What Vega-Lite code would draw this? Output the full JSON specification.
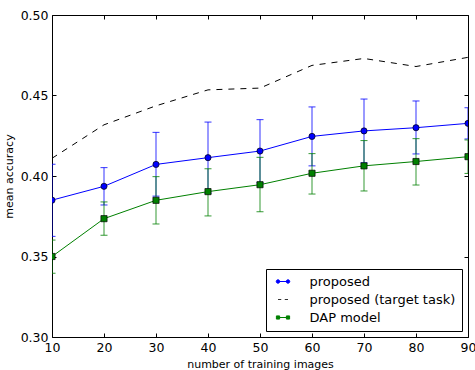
{
  "$schema": "https://vega.github.io/schema/vega-lite/v6.json",
  "width": 416,
  "height": 322,
  "autosize": "none",
  "padding": {"left": 52, "top": 15, "right": 7, "bottom": 33},
  "background": "white",
  "config": {
    "font": "DejaVu Sans",
    "view": {"stroke": "black", "strokeWidth": 1},
    "axis": {
      "domain": false, "grid": false, "ticks": true, "tickColor": "black", "tickSize": -4,
      "labelPadding": 8, "labelFont": "DejaVu Sans", "labelFontSize": 12.5, "labelColor": "black",
      "labelFlush": false, "labelOverlap": false,
      "titleFont": "DejaVu Sans", "titleFontSize": 11, "titleFontWeight": "normal", "titleColor": "black"
    },
    "legend": {
      "orient": "bottom-right", "offset": 6, "padding": 6, "strokeColor": "black", "fillColor": "white",
      "cornerRadius": 0, "labelFont": "DejaVu Sans", "labelFontSize": 13, "labelColor": "black",
      "labelOffset": 20, "symbolOffset": 4.5, "rowPadding": 4, "symbolStrokeWidth": 1, "symbolOpacity": 1
    }
  },
  "data": {
    "values": [
      {"series": "proposed", "n": 10, "acc": 0.385, "lo": 0.3625, "hi": 0.4073},
      {"series": "proposed", "n": 20, "acc": 0.3936, "lo": 0.382, "hi": 0.4052},
      {"series": "proposed", "n": 30, "acc": 0.4072, "lo": 0.3875, "hi": 0.4271},
      {"series": "proposed", "n": 40, "acc": 0.4114, "lo": 0.3893, "hi": 0.4335},
      {"series": "proposed", "n": 50, "acc": 0.4155, "lo": 0.3958, "hi": 0.435},
      {"series": "proposed", "n": 60, "acc": 0.4246, "lo": 0.4063, "hi": 0.4429},
      {"series": "proposed", "n": 70, "acc": 0.428, "lo": 0.4082, "hi": 0.4478},
      {"series": "proposed", "n": 80, "acc": 0.43, "lo": 0.4137, "hi": 0.4466},
      {"series": "proposed", "n": 90, "acc": 0.4327, "lo": 0.423, "hi": 0.4424},
      {"series": "proposed (target task)", "n": 10, "acc": 0.411},
      {"series": "proposed (target task)", "n": 20, "acc": 0.4318},
      {"series": "proposed (target task)", "n": 30, "acc": 0.4436},
      {"series": "proposed (target task)", "n": 40, "acc": 0.4535},
      {"series": "proposed (target task)", "n": 50, "acc": 0.4546},
      {"series": "proposed (target task)", "n": 60, "acc": 0.4687},
      {"series": "proposed (target task)", "n": 70, "acc": 0.473},
      {"series": "proposed (target task)", "n": 80, "acc": 0.468},
      {"series": "proposed (target task)", "n": 90, "acc": 0.4737},
      {"series": "DAP model", "n": 10, "acc": 0.35, "lo": 0.3396, "hi": 0.3602},
      {"series": "DAP model", "n": 20, "acc": 0.3735, "lo": 0.3632, "hi": 0.3839},
      {"series": "DAP model", "n": 30, "acc": 0.3849, "lo": 0.3702, "hi": 0.3996},
      {"series": "DAP model", "n": 40, "acc": 0.3903, "lo": 0.3752, "hi": 0.4045},
      {"series": "DAP model", "n": 50, "acc": 0.3946, "lo": 0.3778, "hi": 0.4116},
      {"series": "DAP model", "n": 60, "acc": 0.4017, "lo": 0.3888, "hi": 0.4139},
      {"series": "DAP model", "n": 70, "acc": 0.4063, "lo": 0.3907, "hi": 0.422},
      {"series": "DAP model", "n": 80, "acc": 0.409, "lo": 0.3944, "hi": 0.4232},
      {"series": "DAP model", "n": 90, "acc": 0.412, "lo": 0.4016, "hi": 0.4224}
    ]
  },
  "layer": [
    {
      "transform": [{"filter": "datum.series === 'proposed (target task)'"}],
      "mark": {"type": "line", "color": "black", "strokeWidth": 1, "strokeDash": [6, 6], "clip": true},
      "encoding": {
        "x": {"field": "n", "type": "quantitative", "scale": {"domain": [10, 90], "nice": false, "zero": false},
              "axis": {"orient": "bottom", "values": [10, 20, 30, 40, 50, 60, 70, 80, 90], "format": "d", "title": "number of training images", "titlePadding": 5}},
        "y": {"field": "acc", "type": "quantitative", "scale": {"domain": [0.3, 0.5], "nice": false, "zero": false},
              "axis": {"orient": "left", "values": [0.3, 0.35, 0.4, 0.45, 0.5], "format": ".2f", "title": "mean accuracy", "titlePadding": 6}}
      }
    },
    {
      "transform": [{"filter": "datum.series === 'proposed'"}],
      "mark": {"type": "rule", "color": "#0000ff", "strokeWidth": 1, "opacity": 0.8, "clip": true},
      "encoding": {
        "x": {"field": "n", "type": "quantitative", "axis": {"orient": "top", "values": [10, 20, 30, 40, 50, 60, 70, 80, 90], "labels": false, "title": null}},
        "y": {"field": "lo", "type": "quantitative", "axis": {"orient": "right", "values": [0.3, 0.35, 0.4, 0.45, 0.5], "labels": false, "title": null}},
        "y2": {"field": "hi"}
      }
    },
    {
      "transform": [{"filter": "datum.series === 'proposed'"}],
      "mark": {"type": "tick", "orient": "horizontal", "color": "#0000ff", "size": 7, "thickness": 1, "opacity": 0.8, "clip": true},
      "encoding": {
        "x": {"field": "n", "type": "quantitative", "axis": null},
        "y": {"field": "hi", "type": "quantitative", "axis": null}
      }
    },
    {
      "transform": [{"filter": "datum.series === 'proposed'"}],
      "mark": {"type": "tick", "orient": "horizontal", "color": "#0000ff", "size": 7, "thickness": 1, "opacity": 0.8, "clip": true},
      "encoding": {
        "x": {"field": "n", "type": "quantitative", "axis": null},
        "y": {"field": "lo", "type": "quantitative", "axis": null}
      }
    },
    {
      "transform": [{"filter": "datum.series === 'DAP model'"}],
      "mark": {"type": "rule", "color": "#008000", "strokeWidth": 1, "opacity": 0.8, "clip": true},
      "encoding": {
        "x": {"field": "n", "type": "quantitative", "axis": null},
        "y": {"field": "lo", "type": "quantitative", "axis": null},
        "y2": {"field": "hi"}
      }
    },
    {
      "transform": [{"filter": "datum.series === 'DAP model'"}],
      "mark": {"type": "tick", "orient": "horizontal", "color": "#008000", "size": 7, "thickness": 1, "opacity": 0.8, "clip": true},
      "encoding": {
        "x": {"field": "n", "type": "quantitative", "axis": null},
        "y": {"field": "hi", "type": "quantitative", "axis": null}
      }
    },
    {
      "transform": [{"filter": "datum.series === 'DAP model'"}],
      "mark": {"type": "tick", "orient": "horizontal", "color": "#008000", "size": 7, "thickness": 1, "opacity": 0.8, "clip": true},
      "encoding": {
        "x": {"field": "n", "type": "quantitative", "axis": null},
        "y": {"field": "lo", "type": "quantitative", "axis": null}
      }
    },
    {
      "transform": [{"filter": "datum.series === 'proposed'"}],
      "mark": {"type": "line", "color": "#0000ff", "strokeWidth": 1, "clip": true},
      "encoding": {
        "x": {"field": "n", "type": "quantitative", "axis": null},
        "y": {"field": "acc", "type": "quantitative", "axis": null}
      }
    },
    {
      "transform": [{"filter": "datum.series === 'DAP model'"}],
      "mark": {"type": "line", "color": "#008000", "strokeWidth": 1, "clip": true},
      "encoding": {
        "x": {"field": "n", "type": "quantitative", "axis": null},
        "y": {"field": "acc", "type": "quantitative", "axis": null}
      }
    },
    {
      "transform": [{"filter": "datum.series === 'proposed'"}],
      "mark": {"type": "point", "shape": "circle", "filled": true, "fill": "#0000ff", "stroke": "black", "strokeWidth": 0.7, "size": 38, "opacity": 1, "clip": true},
      "encoding": {
        "x": {"field": "n", "type": "quantitative", "axis": null},
        "y": {"field": "acc", "type": "quantitative", "axis": null}
      }
    },
    {
      "transform": [{"filter": "datum.series === 'DAP model'"}],
      "mark": {"type": "point", "shape": "square", "filled": true, "fill": "#008000", "stroke": "black", "strokeWidth": 0.7, "size": 38, "opacity": 1, "clip": true},
      "encoding": {
        "x": {"field": "n", "type": "quantitative", "axis": null},
        "y": {"field": "acc", "type": "quantitative", "axis": null}
      }
    },
    {
      "mark": {"type": "point", "size": 361, "opacity": 0, "strokeWidth": 1, "clip": true},
      "encoding": {
        "x": {"field": "n", "type": "quantitative", "axis": null},
        "y": {"field": "acc", "type": "quantitative", "axis": null},
        "fill": {"field": "series", "type": "nominal",
                 "scale": {"domain": ["proposed", "proposed (target task)", "DAP model"], "range": ["#0000ff", "#333333", "#008000"]},
                 "legend": {"title": null}},
        "stroke": {"field": "series", "type": "nominal",
                   "scale": {"domain": ["proposed", "proposed (target task)", "DAP model"], "range": ["#0000ff", "#333333", "#008000"]},
                   "legend": {"title": null}},
        "shape": {"field": "series", "type": "nominal",
                  "scale": {"domain": ["proposed", "proposed (target task)", "DAP model"],
                            "range": [
                              "M-1,0L1,0M-0.65,0A0.35,0.35 0 1,1 -1.35,0A0.35,0.35 0 1,1 -0.65,0ZM1.35,0A0.35,0.35 0 1,1 0.65,0A0.35,0.35 0 1,1 1.35,0Z",
                              "M-1,0L-0.35,0M0.35,0L1,0",
                              "M-1,0L1,0M-1.32,-0.32L-0.68,-0.32L-0.68,0.32L-1.32,0.32ZM0.68,-0.32L1.32,-0.32L1.32,0.32L0.68,0.32Z"
                            ]},
                  "legend": {"title": null}}
      }
    }
  ],
  "resolve": {"axis": {"x": "independent", "y": "independent"}}
}
